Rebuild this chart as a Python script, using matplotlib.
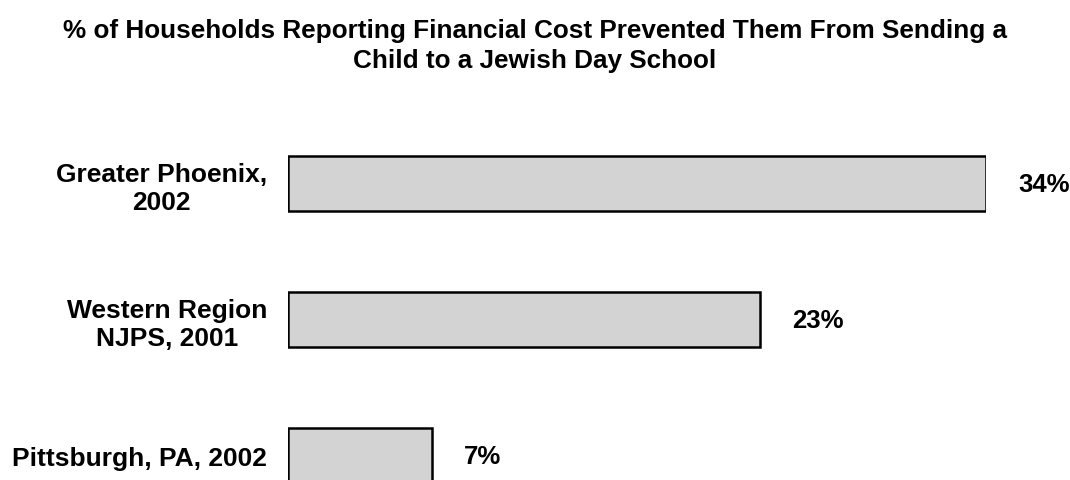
import matplotlib.pyplot as plt

plt.rcParams['font.family'] = ['Liberation Sans', 'DejaVu Sans']

# survey results
labels = ['Greater Phoenix,\n2002', 'Western Region\nNJPS, 2001', 'Pittsburgh, PA, 2002']
values = [34, 23, 7]
value_labels = ['34%', '23%', '7%']

W, H = 1070, 481
fig = plt.figure(figsize=(W / 100, H / 100), dpi=100)

# axes spans the bar area horizontally; the last bar runs off the bottom edge
ax = fig.add_axes([288 / W, 0, 698 / W, 1])
pos = list(range(len(values)))
ax.barh(pos, values, height=55 / 136, color='#d3d3d3', edgecolor='black', linewidth=1.8)
ax.set_xlim(0, 34)
ax.set_ylim((H - 184.5) / 136, -184.5 / 136)

for p, v, t in zip(pos, values, value_labels):
    ax.annotate(t, (v, p), xytext=(32, 0), textcoords='offset pixels',
                ha='left', va='center', fontsize=18.5, fontweight='bold', clip_on=False)

ax.set_yticks(pos)
ax.set_yticklabels(labels, fontsize=19, fontweight='bold', linespacing=1.22)
for lab in ax.get_yticklabels():
    lab.set_multialignment('center')
ax.tick_params(axis='y', length=0, pad=15)
ax.set_xticks([])
for s in ax.spines.values():
    s.set_visible(False)

fig.text(0.5, 1 - 46 / H,
         '% of Households Reporting Financial Cost Prevented Them From Sending a\nChild to a Jewish Day School',
         ha='center', va='center', fontsize=18.8, fontweight='bold', linespacing=1.33)

fig.savefig('out.png', dpi=100)
